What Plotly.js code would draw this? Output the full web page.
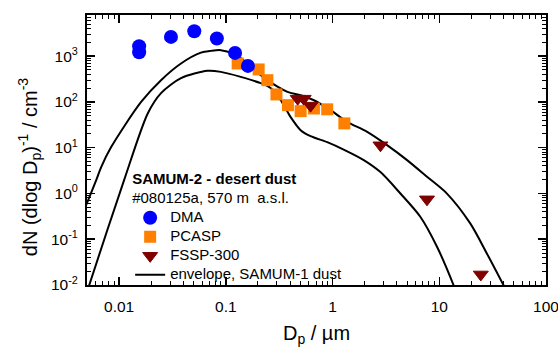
<!DOCTYPE html>
<html>
<head>
<meta charset="utf-8">
<script src="https://cdn.plot.ly/plotly-3.0.1.min.js"></script>
<style>html,body{margin:0;padding:0;background:#fff;}#chart{width:558px;height:347px;}</style>
</head>
<body>
<div id="chart"></div>
<script>
// DMA (blue circles)
var dmaD = [0.0154, 0.0154, 0.0306, 0.0506, 0.0824, 0.122, 0.161];
var dmaN = [1650, 1220, 2640, 3520, 2430, 1180, 614];
// PCASP (orange squares)
var pcaspD = [0.129, 0.203, 0.245, 0.298, 0.382, 0.502, 0.669, 0.891, 1.29];
var pcaspN = [693, 513, 299, 146, 85, 63, 72, 69, 34];
// FSSP-300 (dark red triangles)
var fsspD = [0.471, 0.536, 0.622, 2.81, 7.67, 24.5];
var fsspN = [118, 118, 83, 11.3, 0.745, 0.017];
// envelope, SAMUM-1 dust: upper curve
var upD = [0.00441, 0.00513, 0.0061, 0.00679, 0.00842, 0.01607, 0.0247, 0.038, 0.0584, 0.0724, 0.0898, 0.119, 0.147, 0.171, 0.245, 0.378, 0.502, 0.669, 0.957, 1.37, 2.11, 3.24, 4.99, 7.67, 11.8, 19.5, 27.9, 39.9, 46.1];
var upN = [0.305, 0.718, 1.96, 3.77, 10.3, 100, 299, 693, 1193, 1306, 1352, 1110, 818, 584, 299, 166, 141, 109, 66, 36.8, 22.2, 11.4, 5.36, 2.32, 0.995, 0.222, 0.049, 0.01, 0.0052];
// envelope lower curve
var loD = [0.00492, 0.00525, 0.01113, 0.01854, 0.0247, 0.038, 0.0674, 0.0898, 0.138, 0.212, 0.264, 0.327, 0.405, 0.502, 0.622, 0.891, 1.27, 1.96, 2.81, 4.32, 6.64, 9.52, 13.6, 15.1];
var loN = [0.00605, 0.01, 1.96, 56.1, 156, 331, 478, 454, 353, 257, 200, 109, 46.6, 24.2, 17.9, 13.2, 9.1, 5.36, 2.93, 1.0, 0.31, 0.0686, 0.01, 0.0052];

// tick labels
var xTickVals = [0.01, 0.1, 1, 10, 100];
var xTickText = ['0.01', '0.1', '1', '10', '100'];
var yTickVals = [0.01, 0.1, 1, 10, 100, 1000];
var yTickText = ['10<sup>-2</sup>', '10<sup>-1</sup>', '10<sup>0</sup>', '10<sup>1</sup>', '10<sup>2</sup>', '10<sup>3</sup>'];

var legendTitle = '<b>SAMUM-2 - desert dust</b><br>#080125a, 570 m&nbsp; a.s.l.';
var names = ['DMA', 'PCASP', 'FSSP-300', 'envelope, SAMUM-1 dust'];

var FONT = 'Liberation Sans, Arial, sans-serif';
function big(s) { return '<span style="font-size:15px">' + s + '</span>'; }

var traces = [
  {x: upD, y: upN, mode: 'lines', name: big(names[3]), line: {color: '#000', width: 2, shape: 'spline', smoothing: 0.8}, showlegend: true, legendrank: 4},
  {x: loD, y: loN, mode: 'lines', line: {color: '#000', width: 2, shape: 'spline', smoothing: 0.8}, showlegend: false},
  {x: pcaspD, y: pcaspN, mode: 'markers', name: big(names[1]), marker: {symbol: 'square', size: 12, color: '#ff8000'}, legendrank: 2},
  {x: fsspD, y: fsspN, mode: 'markers', name: big(names[2]), marker: {symbol: 'triangle-down', size: 13, color: '#800000', line: {color: '#800000', width: 1}}, legendrank: 3},
  {x: dmaD, y: dmaN, mode: 'markers', name: big(names[0]), marker: {symbol: 'circle', size: 14, color: '#0000ff'}, legendrank: 1}
];

var axisCommon = {
  type: 'log', tickmode: 'array', ticks: 'inside', ticklen: 8, tickwidth: 1.5, tickcolor: '#000',
  mirror: 'allticks', showline: true, linewidth: 2, linecolor: '#000',
  showgrid: false, zeroline: false, ticklabeloverflow: 'allow',
  minor: {dtick: 'D1', ticks: 'inside', ticklen: 4, tickwidth: 1, tickcolor: '#000', showgrid: false},
  tickfont: {family: FONT, size: 15.5, color: '#000'}
};

var layout = {
  width: 558, height: 347,
  margin: {l: 87, r: 12, t: 15, b: 62},
  paper_bgcolor: '#fff', plot_bgcolor: '#fff',
  font: {family: FONT, color: '#000'},
  xaxis: Object.assign({}, axisCommon, {
    range: [Math.log10(0.005), 2], tickvals: xTickVals, ticktext: xTickText, ticklabelstandoff: 6,
    title: {text: 'D<sub>p</sub> / µm', font: {family: FONT, size: 20, color: '#000'}, standoff: 14}
  }),
  yaxis: Object.assign({}, axisCommon, {
    range: [-2, 3.9], tickvals: yTickVals, ticktext: yTickText, ticklabelstandoff: 4
  }),
  legend: {
    x: 0.094, y: 0.447, xanchor: 'left', yanchor: 'top',
    bgcolor: 'rgba(0,0,0,0)', borderwidth: 0,
    font: {family: FONT, size: 12, color: '#000'},
    title: {text: legendTitle, font: {family: FONT, size: 15, color: '#000'}},
    tracegroupgap: 0
  },
  annotations: [{
    text: 'dN (dlog D<sub>p</sub>)<sup>-1</sup> / cm<sup>-3</sup>',
    xref: 'paper', yref: 'paper', x: -0.126, y: 0.437,
    xanchor: 'center', yanchor: 'middle', textangle: -90, showarrow: false,
    font: {family: FONT, size: 20, color: '#000'}
  }],
  showlegend: true
};

Plotly.newPlot('chart', traces, layout, {staticPlot: true});
</script>
</body>
</html>
